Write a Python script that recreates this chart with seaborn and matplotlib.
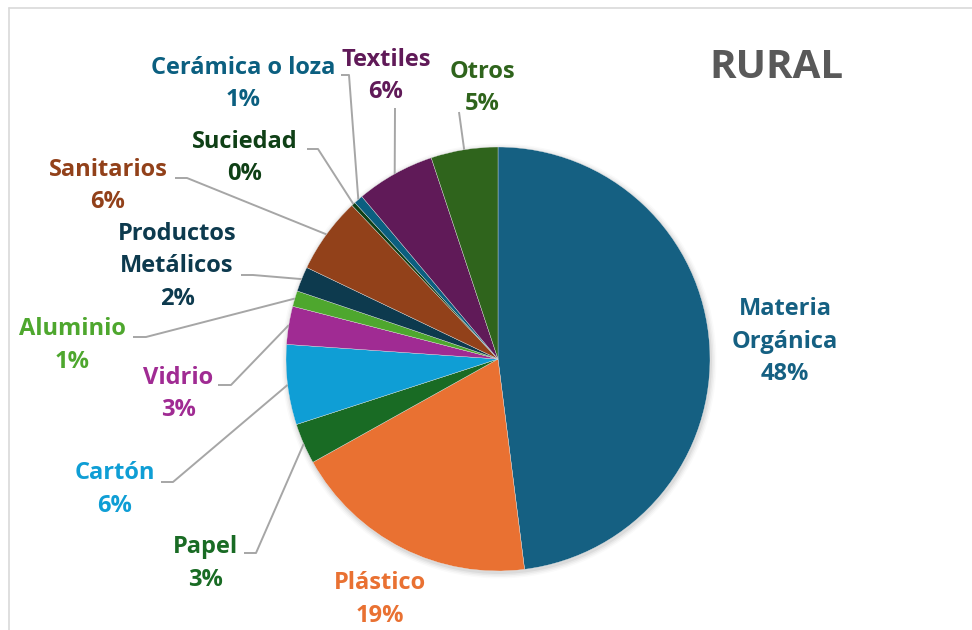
import numpy as np
import matplotlib
matplotlib.use("Agg")
import matplotlib.pyplot as plt
from matplotlib.patches import Circle
import seaborn as sns

# Waste composition, rural zone (% of total weight)
categories = ["Materia Orgánica", "Plástico", "Papel", "Cartón", "Vidrio", "Aluminio",
              "Productos Metálicos", "Sanitarios", "Suciedad", "Cerámica o loza",
              "Textiles", "Otros"]
shares = [48.0, 18.9, 3.1, 6.1, 2.9, 1.2, 1.9, 5.8, 0.3, 0.7, 6.0, 5.1]
slice_colors = ["#156082", "#E97132", "#196B24", "#0F9ED5", "#A02B93", "#4EA72E",
                "#0D3A4E", "#92411A", "#0F4016", "#0B5F80", "#601A58", "#2F641C"]
title = "RURAL"

sns.set_theme(style="white")
plt.rcParams["font.family"] = ["Open Sans", "DejaVu Sans"]

W, H = 972, 630
fig = plt.figure(figsize=(W / 100, H / 100), dpi=100)
ax = fig.add_axes([0, 0, 1, 1])
ax.set_xlim(0, W)
ax.set_ylim(0, H)
ax.set_aspect("equal")
ax.axis("off")


def Y(y):
    return H - y


palette = sns.color_palette(slice_colors)
cx, cy, R = 498, Y(359), 212

# soft drop shadow under the pie
for k, a in enumerate([0.05, 0.04, 0.03, 0.02]):
    ax.add_patch(Circle((cx + 1, cy - 2), R + 1 + 1.5 * k, color="black", alpha=a, lw=0, zorder=1))

wedges, _ = ax.pie(shares, colors=palette, startangle=90, counterclock=False,
                   center=(cx, cy), radius=R, frame=True,
                   wedgeprops=dict(linewidth=0.25, edgecolor="#e8e8e8"))
for w in wedges:
    w.set_zorder(2)
ax.set_xlim(0, W)
ax.set_ylim(0, H)
ax.axis("off")

# label layout: text centre (x, first line y), leader start, optional knee
layout = {
    "Materia Orgánica":    dict(xy=(785, 309), lines=["Materia", "Orgánica"], lead=None),
    "Plástico":            dict(xy=(380, 583), lines=["Plástico"], lead=None),
    "Papel":               dict(xy=(205, 547), lines=["Papel"], lead=[(244, 553), (256, 553)]),
    "Cartón":              dict(xy=(115, 473), lines=["Cartón"], lead=[(161, 482), (173, 482)]),
    "Vidrio":              dict(xy=(178, 378), lines=["Vidrio"], lead=[(218, 385), (231, 385)]),
    "Aluminio":            dict(xy=(72, 329), lines=["Aluminio"], lead=[(133, 337), (146, 337)]),
    "Productos Metálicos": dict(xy=(177, 234), lines=["Productos", "Metálicos"], lead=[(241, 275), (253, 275)]),
    "Sanitarios":          dict(xy=(108, 170), lines=["Sanitarios"], lead=[(175, 178), (187, 178)]),
    "Suciedad":            dict(xy=(245, 142), lines=["Suciedad"], lead=[(307, 149), (318, 149)]),
    "Cerámica o loza":     dict(xy=(243, 68), lines=["Cerámica o loza"], lead=[(341, 75), (349, 75)]),
    "Textiles":            dict(xy=(386, 60), lines=["Textiles"], lead=[(395, 108)]),
    "Otros":               dict(xy=(482, 72), lines=["Otros"], lead=[(459, 112)]),
}

line_gap = 32.5
fs = 17
for name, val, col, w in zip(categories, shares, palette, wedges):
    spec = layout[name]
    x0, y0 = spec["xy"]
    text_lines = spec["lines"] + [f"{val:.0f}%"]
    for i, t in enumerate(text_lines):
        ax.text(x0, Y(y0 + i * line_gap), t, ha="center", va="center",
                fontsize=fs, fontweight="bold", color=col, zorder=5)
    if spec["lead"]:
        mid = np.deg2rad((w.theta1 + w.theta2) / 2)
        edge = (cx + R * np.cos(mid), cy + R * np.sin(mid))
        pts = [(px, Y(py)) for px, py in spec["lead"]] + [edge]
        xs, ys = zip(*pts)
        ax.plot(xs, ys, color="#A6A6A6", lw=1.4, zorder=3, solid_capstyle="butt")

ax.text(776, Y(68), title, ha="center", va="center", fontsize=29,
        fontweight="bold", color="#595959")

# chart area border
ax.plot([9, W], [Y(8), Y(8)], color="#D9D9D9", lw=1.2, zorder=0)
ax.plot([9, 9], [Y(8), 0], color="#D9D9D9", lw=1.2, zorder=0)

fig.savefig("out.png", dpi=100, facecolor="white")
